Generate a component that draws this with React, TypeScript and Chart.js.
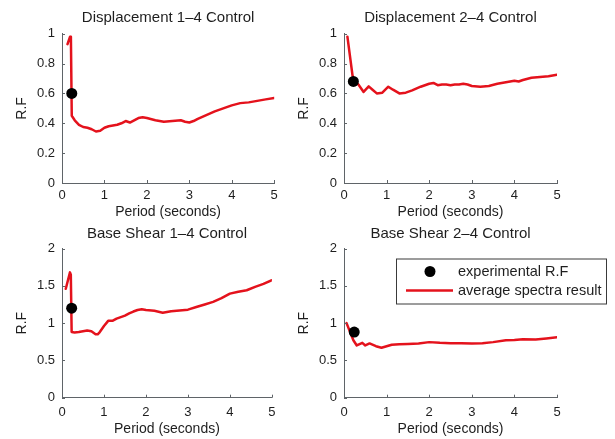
import { useEffect, useRef } from 'react';
import { Chart, registerables } from 'chart.js';

Chart.register(...registerables);

// Axis tick values
const periodTicks = [0, 1, 2, 3, 4, 5];
const rfTicksDisp = [0, 0.2, 0.4, 0.6, 0.8, 1];
const rfTicksShear = [0, 0.5, 1, 1.5, 2];

// Displacement 1-4 control: average spectra result
const disp14Period = [0.13, 0.19, 0.21, 0.23, 0.3, 0.4, 0.5, 0.6, 0.7, 0.8, 0.9, 1.0, 1.1, 1.2, 1.3, 1.4, 1.5, 1.6, 1.7, 1.8, 1.9, 2.0, 2.2, 2.4, 2.6, 2.8, 2.9, 3.0, 3.1, 3.2, 3.4, 3.6, 3.8, 4.0, 4.2, 4.4, 4.6, 4.8, 5.0];
const disp14RF = [0.93, 0.98, 0.97, 0.45, 0.42, 0.39, 0.375, 0.37, 0.36, 0.345, 0.35, 0.37, 0.38, 0.385, 0.39, 0.4, 0.415, 0.405, 0.42, 0.435, 0.44, 0.435, 0.42, 0.41, 0.415, 0.42, 0.41, 0.405, 0.415, 0.43, 0.455, 0.48, 0.5, 0.52, 0.535, 0.54, 0.55, 0.56, 0.57];
const disp14Exp = [0.23, 0.6];

// Displacement 2-4 control
const disp24Period = [0.08, 0.2, 0.25, 0.3, 0.35, 0.46, 0.58, 0.67, 0.77, 0.9, 1.04, 1.15, 1.3, 1.45, 1.6, 1.8, 2.0, 2.1, 2.2, 2.3, 2.4, 2.5, 2.6, 2.7, 2.8, 2.9, 3.0, 3.2, 3.4, 3.6, 3.8, 4.0, 4.1, 4.2, 4.4, 4.6, 4.8, 5.0];
const disp24RF = [0.98, 0.72, 0.68, 0.67, 0.655, 0.61, 0.647, 0.625, 0.6, 0.605, 0.645, 0.625, 0.6, 0.605, 0.62, 0.645, 0.665, 0.67, 0.655, 0.66, 0.66, 0.655, 0.66, 0.66, 0.665, 0.66, 0.65, 0.645, 0.65, 0.665, 0.675, 0.685, 0.68, 0.69, 0.705, 0.71, 0.715, 0.725];
const disp24Exp = [0.22, 0.68];

// Base shear 1-4 control
const shear14Period = [0.09, 0.19, 0.21, 0.23, 0.3, 0.4, 0.5, 0.6, 0.7, 0.8, 0.85, 0.9, 1.0, 1.1, 1.2, 1.3, 1.4, 1.5, 1.6, 1.7, 1.8, 1.9, 2.0, 2.2, 2.4, 2.5, 2.6, 2.8, 3.0, 3.2, 3.4, 3.6, 3.8, 4.0, 4.2, 4.4, 4.6, 4.8, 5.0];
const shear14RF = [1.46, 1.68, 1.65, 0.88, 0.875, 0.88, 0.89, 0.9, 0.89, 0.85, 0.85, 0.88, 0.96, 1.03, 1.03, 1.06, 1.08, 1.1, 1.13, 1.155, 1.175, 1.185, 1.175, 1.165, 1.14, 1.15, 1.16, 1.17, 1.18, 1.215, 1.25, 1.285, 1.335, 1.395, 1.42, 1.44, 1.485, 1.525, 1.575];
const shear14Exp = [0.23, 1.2];

// Base shear 2-4 control
const shear24Period = [0.06, 0.15, 0.22, 0.3, 0.43, 0.5, 0.6, 0.75, 0.88, 1.0, 1.12, 1.3, 1.5, 1.75, 2.0, 2.25, 2.5, 2.75, 3.0, 3.25, 3.5, 3.8, 4.0, 4.2, 4.5, 4.75, 5.0];
const shear24RF = [1.0, 0.87, 0.77, 0.7, 0.735, 0.7, 0.727, 0.69, 0.67, 0.69, 0.71, 0.715, 0.72, 0.727, 0.745, 0.735, 0.73, 0.73, 0.725, 0.73, 0.745, 0.77, 0.775, 0.785, 0.78, 0.795, 0.81];
const shear24Exp = [0.24, 0.88];

const seriesLabels = ['experimental R.F', 'average spectra result'];

const FONT = '"Liberation Sans", Arial, Helvetica, sans-serif';
const TEXT = '#1e1e1e';
const AXIS = '#5f6468';
const RED = '#e4121c';

type Frame = {
  left: number; top: number; width: number; height: number;
  area: { left: number; right: number; top: number; bottom: number };
  titleGap: number; xTickPad: number; xTitlePad: number;
};

type Panel = {
  title: string;
  period: number[];
  rf: number[];
  exp: number[];
  yTicks: number[];
  frame: Frame;
  legend: boolean;
};

const topRow = { top: 0, height: 220, areaTop: 33.7, areaBottom: 183, titleGap: 16, xTickPad: 4.2, xTitlePad: 1 };
const bottomRow = { top: 220, height: 219, areaTop: 248.5, areaBottom: 397.7, titleGap: 14.5, xTickPad: 6.5, xTitlePad: 2.5 };
const leftCol = { left: 0, width: 282, areaLeft: 62, areaRight: 275 };
const rightCol = { left: 282, width: 333, areaLeft: 344, areaRight: 557 };

function frameOf(col: typeof leftCol, row: typeof topRow): Frame {
  return {
    left: col.left, top: row.top, width: col.width, height: row.height,
    area: { left: col.areaLeft, right: col.areaRight, top: row.areaTop, bottom: row.areaBottom },
    titleGap: row.titleGap, xTickPad: row.xTickPad, xTitlePad: row.xTitlePad,
  };
}

const panels: Panel[] = [
  { title: 'Displacement 1–4 Control', period: disp14Period, rf: disp14RF, exp: disp14Exp, yTicks: rfTicksDisp, frame: frameOf(leftCol, topRow), legend: false },
  { title: 'Displacement 2–4 Control', period: disp24Period, rf: disp24RF, exp: disp24Exp, yTicks: rfTicksDisp, frame: frameOf(rightCol, topRow), legend: false },
  { title: 'Base Shear 1–4 Control', period: shear14Period, rf: shear14RF, exp: shear14Exp, yTicks: rfTicksShear, frame: frameOf(leftCol, bottomRow), legend: false },
  { title: 'Base Shear 2–4 Control', period: shear24Period, rf: shear24RF, exp: shear24Exp, yTicks: rfTicksShear, frame: frameOf(rightCol, bottomRow), legend: true },
];

// Plain tick numbers: 0, 0.2, 1, 1.5 ...
const plainNumber = (v: number | string) => String(Math.round(Number(v) * 1000) / 1000);

// Title centred over the plot area
const panelTitle = {
  id: 'panelTitle',
  afterDraw(chart: any, _args: any, opts: any) {
    const { ctx, chartArea: ca } = chart;
    ctx.save();
    ctx.font = `15px ${FONT}`;
    ctx.fillStyle = TEXT;
    ctx.textAlign = 'center';
    ctx.textBaseline = 'middle';
    ctx.fillText(opts.text, (ca.left + ca.right) / 2, ca.top - opts.gap);
    ctx.restore();
  },
};

// Short tick marks pointing into the plot area
const innerTicks = {
  id: 'innerTicks',
  afterDatasetsDraw(chart: any) {
    const { ctx, chartArea: ca } = chart;
    const xs = chart.scales.x;
    const ys = chart.scales.y;
    const len = 3;
    ctx.save();
    ctx.strokeStyle = AXIS;
    ctx.lineWidth = 1;
    ctx.beginPath();
    xs.ticks.forEach((t: any) => {
      const px = Math.round(xs.getPixelForValue(t.value)) + 0.5;
      ctx.moveTo(px, ca.bottom);
      ctx.lineTo(px, ca.bottom - len);
    });
    ys.ticks.forEach((t: any) => {
      const py = Math.round(ys.getPixelForValue(t.value)) + 0.5;
      ctx.moveTo(ca.left, py);
      ctx.lineTo(ca.left + len, py);
    });
    ctx.stroke();
    ctx.restore();
  },
};

// Boxed legend placed inside the plot
const boxLegend = {
  id: 'boxLegend',
  afterDraw(chart: any, _args: any, opts: any) {
    if (!opts.display) return;
    const { ctx, chartArea: ca } = chart;
    const ds = chart.data.datasets;
    const x0 = ca.left + opts.dx;
    const y0 = ca.top + opts.dy;
    ctx.save();
    ctx.fillStyle = '#ffffff';
    ctx.fillRect(x0, y0, opts.w, opts.h);
    ctx.strokeStyle = '#3a3a3a';
    ctx.lineWidth = 1;
    ctx.strokeRect(x0 + 0.5, y0 + 0.5, opts.w - 1, opts.h - 1);
    const row1 = y0 + 13;
    const row2 = y0 + 32;
    ctx.beginPath();
    ctx.arc(x0 + 34, row1, ds[0].pointRadius, 0, Math.PI * 2);
    ctx.fillStyle = ds[0].pointBackgroundColor;
    ctx.fill();
    ctx.beginPath();
    ctx.moveTo(x0 + 10, row2);
    ctx.lineTo(x0 + 57, row2);
    ctx.strokeStyle = ds[1].borderColor;
    ctx.lineWidth = ds[1].borderWidth;
    ctx.stroke();
    ctx.font = `14.5px ${FONT}`;
    ctx.fillStyle = TEXT;
    ctx.textAlign = 'left';
    ctx.textBaseline = 'middle';
    ctx.fillText(ds[0].label, x0 + 62, row1);
    ctx.fillText(ds[1].label, x0 + 62, row2);
    ctx.restore();
  },
};

function Subplot({ panel }: { panel: Panel }) {
  const ref = useRef<HTMLCanvasElement>(null);
  const f = panel.frame;

  useEffect(() => {
    const canvas = ref.current;
    if (!canvas) return;
    const yAxisWidth = f.area.left - f.left;
    const xAxisHeight = f.top + f.height - f.area.bottom;

    const chart = new Chart(canvas, {
      type: 'line',
      data: {
        datasets: [
          {
            label: seriesLabels[0],
            data: [{ x: panel.exp[0], y: panel.exp[1] }],
            showLine: false,
            pointRadius: 5.5,
            pointHoverRadius: 5.5,
            pointBackgroundColor: '#000000',
            pointBorderColor: '#000000',
            pointBorderWidth: 0,
            borderColor: '#000000',
            backgroundColor: '#000000',
          },
          {
            label: seriesLabels[1],
            data: panel.period.map((x, i) => ({ x, y: panel.rf[i] })),
            borderColor: RED,
            backgroundColor: RED,
            borderWidth: 2.5,
            pointRadius: 0,
            pointHoverRadius: 0,
            tension: 0,
            fill: false,
            borderJoinStyle: 'round',
            borderCapStyle: 'round',
          },
        ],
      } as any,
      options: {
        responsive: false,
        animation: false,
        events: [],
        layout: {
          padding: {
            left: 0,
            right: f.left + f.width - f.area.right,
            top: f.area.top - f.top,
            bottom: 0,
          },
        },
        plugins: {
          legend: { display: false },
          tooltip: { enabled: false },
          panelTitle: { text: panel.title, gap: f.titleGap },
          boxLegend: { display: panel.legend, dx: 52, dy: 10, w: 211, h: 46 },
        } as any,
        scales: {
          x: {
            type: 'linear',
            min: periodTicks[0],
            max: periodTicks[periodTicks.length - 1],
            afterFit: (s: any) => { s.height = xAxisHeight; },
            afterBuildTicks: (s: any) => { s.ticks = periodTicks.map((v) => ({ value: v })); },
            grid: { display: false, drawTicks: false },
            border: { display: true, color: AXIS, width: 1 },
            ticks: {
              padding: f.xTickPad,
              maxRotation: 0,
              autoSkip: false,
              color: TEXT,
              font: { family: FONT, size: 13 },
              callback: plainNumber,
            },
            title: {
              display: true,
              text: 'Period (seconds)',
              color: TEXT,
              font: { family: FONT, size: 14, lineHeight: 1 },
              padding: { top: 0, bottom: f.xTitlePad },
            },
          },
          y: {
            type: 'linear',
            min: panel.yTicks[0],
            max: panel.yTicks[panel.yTicks.length - 1],
            afterFit: (s: any) => { s.width = yAxisWidth; },
            afterBuildTicks: (s: any) => { s.ticks = panel.yTicks.map((v) => ({ value: v })); },
            grid: { display: false, drawTicks: false },
            border: { display: true, color: AXIS, width: 1 },
            ticks: {
              padding: 7,
              autoSkip: false,
              color: TEXT,
              font: { family: FONT, size: 13 },
              callback: plainNumber,
            },
            title: {
              display: true,
              text: 'R.F',
              color: TEXT,
              font: { family: FONT, size: 14, lineHeight: 1 },
              padding: { top: 15, bottom: 0 },
            },
          },
        },
      } as any,
      plugins: [panelTitle, innerTicks, boxLegend],
    });
    return () => chart.destroy();
  }, [panel]);

  return (
    <canvas
      ref={ref}
      width={f.width}
      height={f.height}
      style={{ position: 'absolute', left: f.left, top: f.top, width: f.width, height: f.height }}
    />
  );
}

export default function App() {
  return (
    <div style={{ position: 'fixed', left: 0, top: 0, width: 615, height: 439, background: '#ffffff', overflow: 'hidden' }}>
      {panels.map((p) => (
        <Subplot key={p.title} panel={p} />
      ))}
    </div>
  );
}
